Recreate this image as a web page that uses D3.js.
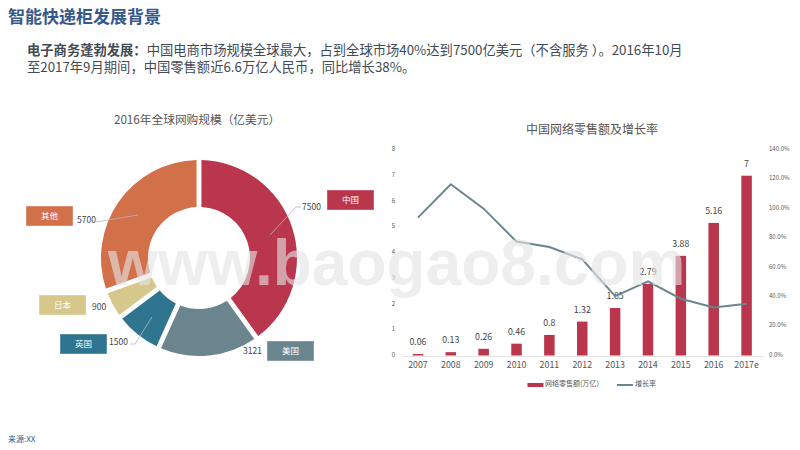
<!DOCTYPE html>
<html>
<head>
<meta charset="utf-8">
<script src="https://cdn.jsdelivr.net/npm/d3@7"></script>
<style>
  body { margin: 0; background: #fff; }
  text { font-family: "Noto Sans CJK SC", sans-serif; }
</style>
</head>
<body>
<script>
const width = 800,
  height = 450;

// donut data
const shareNames = ["中国", "美国", "英国", "日本", "其他"];
const shareValues = [7500, 3121, 1500, 900, 5700];
const shareColors = ["#b9364c", "#6b858e", "#2f758f", "#d5c88a", "#d2704a"];

// bar + line data
const years = ["2007", "2008", "2009", "2010", "2011", "2012", "2013", "2014", "2015", "2016", "2017e"];
const sales = [0.06, 0.13, 0.26, 0.46, 0.8, 1.32, 1.85, 2.79, 3.88, 5.16, 7];
const growth = [93.7, 116.4, 99.8, 77.4, 73.7, 65.4, 40.4, 50.4, 38.6, 32.7, 35.2];
const salesTicks = [0, 1, 2, 3, 4, 5, 6, 7, 8];
const growthTicks = [0, 20, 40, 60, 80, 100, 120, 140];

const svg = d3.select("body").append("svg")
  .attr("width", width)
  .attr("height", height)
  .style("display", "block");

// headings
svg.append("text").attr("x", 8).attr("y", 23)
  .attr("font-size", 17).attr("font-weight", "bold").attr("fill", "#38588c")
  .text("智能快递柜发展背景");

// full-width punctuation written as escapes
const line1 = svg.append("text").attr("x", 27).attr("y", 55)
  .attr("font-size", 13.3).attr("fill", "#414a55");
line1.append("tspan").attr("font-weight", "bold").text("电子商务蓬勃发展\uFF1A");
line1.append("tspan").text("中国电商市场规模全球最大\uFF0C占到全球市场40%达到7500亿美元\uFF08不含服务 \uFF09\u30022016年10月");
svg.append("text").attr("x", 27).attr("y", 72)
  .attr("font-size", 13.3).attr("fill", "#414a55")
  .text("至2017年9月期间\uFF0C中国零售额近6.6万亿人民币\uFF0C同比增长38%\u3002");

svg.append("text").attr("x", 197).attr("y", 124).attr("text-anchor", "middle")
  .attr("font-size", 11.7).attr("fill", "#555")
  .text("2016年全球网购规模\uFF08亿美元\uFF09");

svg.append("text").attr("x", 592).attr("y", 134).attr("text-anchor", "middle")
  .attr("font-size", 12).attr("fill", "#555")
  .text("中国网络零售额及增长率");

svg.append("text").attr("x", 8).attr("y", 442)
  .attr("font-size", 8).attr("fill", "#38588c")
  .text("来源:XX");

// donut
const donut = svg.append("g").attr("transform", "translate(199,258)");
const pie = d3.pie().sort(null).value(d => d);
const arc = d3.arc().innerRadius(51).outerRadius(98).padAngle(0.05).padRadius(98);
const slices = pie(shareValues);

donut.selectAll("path").data(slices).enter().append("path")
  .attr("d", arc)
  .attr("fill", (d, i) => shareColors[i]);

// leader lines + labels, one per slice (box position, value label position, leader path)
const labelBoxes = [[327, 190], [267, 341], [60, 334], [39, 295], [26, 206]];
const valuePos = [[302, 210], [243, 354], [109, 345], [92, 310], [77, 223]];
const leaders = [
  "M270,235L296,207L301,207",
  null,
  "M152,317L135,344L130,344",
  null,
  "M138,215L96,222"
];

svg.selectAll(".leader").data(leaders.filter(d => d)).enter().append("path")
  .attr("class", "leader").attr("d", d => d)
  .attr("fill", "none").attr("stroke", "#b8b8b8").attr("stroke-width", 0.8);

svg.selectAll(".value").data(shareValues).enter().append("text")
  .attr("class", "value")
  .attr("x", (d, i) => valuePos[i][0])
  .attr("y", (d, i) => valuePos[i][1])
  .attr("font-size", 8.5).attr("fill", "#444")
  .text(d => d);

const boxes = svg.selectAll(".box").data(shareNames).enter().append("g")
  .attr("class", "box")
  .attr("transform", (d, i) => `translate(${labelBoxes[i][0]},${labelBoxes[i][1]})`);
boxes.append("rect")
  .attr("width", 47).attr("height", 20)
  .attr("fill", (d, i) => shareColors[i])
  .attr("stroke", "#fff").attr("stroke-opacity", 0.4);
boxes.append("text")
  .attr("x", 23.5).attr("y", 13).attr("text-anchor", "middle")
  .attr("font-size", 8.5).attr("fill", "#fff")
  .text(d => d);

// combo chart
const x = d3.scaleBand().domain(years).range([401.5, 763]);
const ySales = d3.scaleLinear().domain([0, 8]).range([355.5, 150]);
const yGrowth = d3.scaleLinear().domain([0, 140]).range([355.5, 149.5]);

const xAxis = d3.axisBottom(x).tickSize(0).tickPadding(6);
const gx = svg.append("g").attr("transform", "translate(0,356)").call(xAxis);
gx.select(".domain").attr("stroke", "#e2e2e2").attr("stroke-width", 1);
gx.selectAll("text").attr("font-size", 8.8).attr("fill", "#555");

const leftAxis = d3.axisLeft(ySales).tickValues(salesTicks).tickSize(0);
const gl = svg.append("g").attr("transform", "translate(398,-1)").call(leftAxis);
gl.select(".domain").remove();
gl.selectAll("text").attr("font-size", 6).attr("fill", "#555");

const rightAxis = d3.axisRight(yGrowth).tickValues(growthTicks).tickSize(0)
  .tickFormat(d => d.toFixed(1) + "%");
const gr = svg.append("g").attr("transform", "translate(766,-1)").call(rightAxis);
gr.select(".domain").remove();
gr.selectAll("text").attr("font-size", 6).attr("fill", "#555");

const barW = 10.5;
svg.selectAll(".bar").data(sales).enter().append("rect")
  .attr("class", "bar")
  .attr("x", (d, i) => x(years[i]) + x.bandwidth() / 2 - barW / 2)
  .attr("y", d => ySales(d))
  .attr("width", barW)
  .attr("height", d => ySales(0) - ySales(d))
  .attr("fill", "#b9364c");

svg.selectAll(".barLabel").data(sales).enter().append("text")
  .attr("class", "barLabel")
  .attr("x", (d, i) => x(years[i]) + x.bandwidth() / 2)
  .attr("y", d => ySales(d) - 9)
  .attr("text-anchor", "middle")
  .attr("font-size", 8.8).attr("fill", "#444")
  .text(d => d);

const growthLine = d3.line()
  .x((d, i) => x(years[i]) + x.bandwidth() / 2)
  .y(d => yGrowth(d));
svg.append("path").datum(growth)
  .attr("d", growthLine)
  .attr("fill", "none").attr("stroke", "#6b858e").attr("stroke-width", 2);

// legend
svg.append("rect").attr("x", 527.5).attr("y", 383).attr("width", 16).attr("height", 4).attr("fill", "#b9364c");
svg.append("text").attr("x", 545).attr("y", 386).attr("font-size", 7).attr("fill", "#555").text("网络零售额(万亿\uFF09");
svg.append("line").attr("x1", 617).attr("x2", 633).attr("y1", 385).attr("y2", 385)
  .attr("stroke", "#6b858e").attr("stroke-width", 2);
svg.append("text").attr("x", 635).attr("y", 386).attr("font-size", 7).attr("fill", "#555").text("增长率");

// watermark over everything
svg.append("text").attr("x", 108).attr("y", 285)
  .style("font-family", "Liberation Sans")
  .attr("font-size", 64).attr("font-weight", "bold")
  .attr("fill", "#e4e4e4").attr("fill-opacity", 0.62)
  .text("www.baogao8.com");
</script>
</body>
</html>
